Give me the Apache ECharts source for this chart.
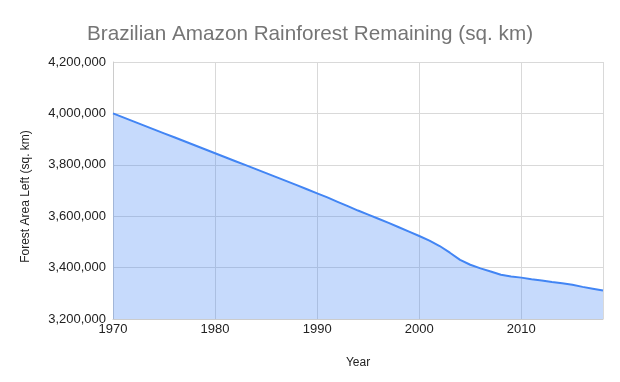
<!DOCTYPE html>
<html>
<head>
<meta charset="utf-8">
<script src="https://cdn.jsdelivr.net/npm/echarts@6/dist/echarts.min.js"></script>
<style>
html,body{margin:0;padding:0;background:#fff;}
#chart{width:620px;height:382px;}
</style>
</head>
<body>
<div id="chart"></div>
<script>
var years = [1970,1971,1972,1973,1974,1975,1976,1977,1978,1979,
             1980,1981,1982,1983,1984,1985,1986,1987,1988,1989,
             1990,1991,1992,1993,1994,1995,1996,1997,1998,1999,
             2000,2001,2002,2003,2004,2005,2006,2007,2008,2009,
             2010,2011,2012,2013,2014,2015,2016,2017,2018];
var forestArea = [4000000,3984500,3969000,3953500,3938000,3922500,3907000,3891500,3876000,3860500,
                  3845000,3829500,3814000,3798500,3783000,3767500,3752000,3736500,3721000,3705000,
                  3689000,3673000,3656000,3639000,3622000,3606000,3590000,3574000,3557000,3540000,
                  3523000,3505000,3484000,3458000,3430000,3411000,3397000,3385000,3372000,3365000,
                  3361000,3355000,3350000,3344000,3339000,3333000,3325000,3318000,3311000];
var yTicks = [3200000,3400000,3600000,3800000,4000000,4200000];
var xTicks = [1970,1980,1990,2000,2010];

var chart = echarts.init(document.getElementById('chart'), null, {renderer:'canvas'});
var font = 'Liberation Sans, Arial, sans-serif';
chart.setOption({
  animation:false,
  title:{
    text:'Brazilian Amazon Rainforest Remaining (sq. km)',
    left:'center', top:19,
    textStyle:{fontFamily:font, fontSize:20.7, fontWeight:'normal', color:'#757575'}
  },
  grid:{left:113, right:17, top:62, bottom:63, containLabel:false},
  xAxis:{
    type:'value', min:xTicks[0], max:2018, interval:10,
    name:'Year', nameLocation:'middle', nameGap:38,
    nameTextStyle:{fontFamily:font, fontSize:12, color:'#222'},
    axisLine:{show:true, lineStyle:{color:'#cccccc'}},
    axisTick:{show:false},
    axisLabel:{fontFamily:font, fontSize:13, color:'#222', margin:4, showMaxLabel:false,
      formatter:function(v){return String(v);}},
    splitLine:{show:true, lineStyle:{color:'#d9d9d9', width:1}}
  },
  yAxis:{
    type:'value', min:yTicks[0], max:yTicks[yTicks.length-1], interval:200000,
    name:'Forest Area Left (sq. km)', nameLocation:'middle', nameGap:81,
    nameTextStyle:{fontFamily:font, fontSize:12, color:'#222', padding:[0,12,0,0]},
    axisLine:{show:true, lineStyle:{color:'#cccccc'}},
    axisTick:{show:false},
    axisLabel:{fontFamily:font, fontSize:13, color:'#222', margin:7,
      formatter:function(v){return v.toLocaleString('en-US');}},
    splitLine:{show:true, lineStyle:{color:'#d9d9d9', width:1}}
  },
  series:[{
    type:'line',
    data:years.map(function(y,i){return [y, forestArea[i]];}),
    showSymbol:false,
    smooth:false,
    lineStyle:{color:'#4285f4', width:2},
    itemStyle:{color:'#4285f4'},
    areaStyle:{color:'rgba(66,133,244,0.3)', opacity:1, origin:'start'}
  }]
});
</script>
</body>
</html>
